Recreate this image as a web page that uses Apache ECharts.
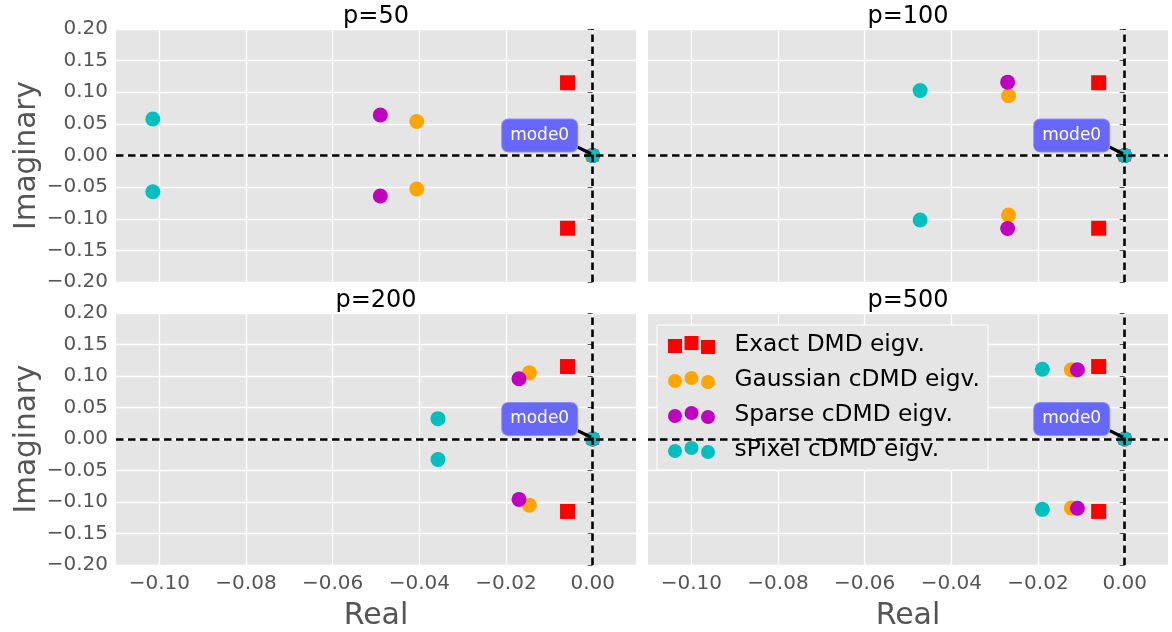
<!DOCTYPE html>
<html>
<head>
<meta charset="utf-8">
<script src="https://cdn.jsdelivr.net/npm/echarts@6/dist/echarts.min.js"></script>
<style>
html, body { margin: 0; padding: 0; background: #fff; }
#chart { width: 1172px; height: 632px; }
</style>
</head>
<body>
<div id="chart"></div>
<script>
const panelTitles = ['p=50', 'p=100', 'p=200', 'p=500'];
const seriesNames = ['Exact DMD eigv.', 'Gaussian cDMD eigv.', 'Sparse cDMD eigv.', 'sPixel cDMD eigv.'];
const seriesColors = ['#ff0000', '#ffa500', '#bf00bf', '#00bfbf'];
const xTicks = [-0.10, -0.08, -0.06, -0.04, -0.02, 0.00];

// eigenvalues as [real, imag], one list per panel
const exactEig = [
    [[0, 0], [-0.0058, 0.115], [-0.0058, -0.115]],
    [[0, 0], [-0.0060, 0.115], [-0.0060, -0.115]],
    [[0, 0], [-0.0058, 0.115], [-0.0058, -0.115]],
    [[0, 0], [-0.0060, 0.115], [-0.0060, -0.115]]
];
const gaussianEig = [
    [[0, 0], [-0.0406, 0.0538], [-0.0406, -0.0530]],
    [[0, 0], [-0.0268, 0.0945], [-0.0268, -0.0940]],
    [[0, 0], [-0.0146, 0.1050], [-0.0146, -0.1050]],
    [[0, 0], [-0.0123, 0.1100], [-0.0123, -0.1097]]
];
const sparseEig = [
    [[0, 0], [-0.0490, 0.0640], [-0.0490, -0.0640]],
    [[0, 0], [-0.0270, 0.1160], [-0.0270, -0.1155]],
    [[0, 0], [-0.0170, 0.0956], [-0.0170, -0.0959]],
    [[0, 0], [-0.0109, 0.1100], [-0.0109, -0.1100]]
];
const spixelEig = [
    [[0, 0], [-0.1015, 0.0576], [-0.1015, -0.0574]],
    [[0, 0], [-0.0472, 0.1028], [-0.0472, -0.1020]],
    [[0, 0], [-0.0357, 0.0323], [-0.0357, -0.0326]],
    [[0, 0], [-0.0190, 0.1108], [-0.0190, -0.1117]]
];

// annotation "mode0" on the origin
const modeLabel = 'mode0';
const arrowFrom = [-0.00345, 0.0133];
const arrowTo = [-0.0004, 0.0027];

const eigSets = [exactEig, gaussianEig, sparseEig, spixelEig];
const gridPos = [
    { left: 116, top: 29 },
    { left: 648, top: 29 },
    { left: 116, top: 313 },
    { left: 648, top: 313 }
];
const FONT = 'DejaVu Sans';

const fmt = v => v.toFixed(2).replace('-', '\u2212');
const squareIcon = 'path://M0,3h14v14h-14z M16.5,0h14v14h-14z M33,4h14v14h-14z';
const circleIcon = 'path://M0,10a7,7 0 1,0 14,0a7,7 0 1,0 -14,0z M16.5,7a7,7 0 1,0 14,0a7,7 0 1,0 -14,0z M33,11a7,7 0 1,0 14,0a7,7 0 1,0 -14,0z';

const grids = gridPos.map(g => ({
    left: g.left, top: g.top, width: 520, height: 253,
    show: true, backgroundColor: '#e5e5e5', borderWidth: 0
}));

const xAxes = gridPos.map((g, i) => ({
    type: 'value', gridIndex: i, min: -0.11, max: 0.01,
    name: i >= 2 ? 'Real' : '', nameLocation: 'middle', nameGap: 36,
    nameTextStyle: { fontSize: 30, color: '#555555', fontFamily: FONT },
    axisLine: { show: false },
    axisTick: { show: false, customValues: xTicks },
    axisLabel: { show: i >= 2, customValues: xTicks, formatter: fmt, fontSize: 20, color: '#555555', margin: 9, fontFamily: FONT },
    splitLine: { show: true, lineStyle: { color: '#ffffff', width: 1.3 } }
}));

const yAxes = gridPos.map((g, i) => ({
    type: 'value', gridIndex: i, min: -0.2, max: 0.2, interval: 0.05,
    name: i % 2 === 0 ? 'Imaginary' : '', nameLocation: 'middle', nameGap: 72,
    nameTextStyle: { fontSize: 29.5, color: '#555555', fontFamily: FONT },
    axisLine: { show: false },
    axisTick: { show: true, length: 5, lineStyle: { color: '#555555', width: 1 } },
    axisLabel: { show: i % 2 === 0, formatter: fmt, fontSize: 20, color: '#555555', margin: 8, fontFamily: FONT },
    splitLine: { show: true, lineStyle: { color: '#ffffff', width: 1.3 } }
}));

const titles = gridPos.map((g, i) => ({
    text: panelTitles[i], left: g.left + 260, top: g.top - 24, textAlign: 'center',
    padding: 0,
    textStyle: { fontSize: 24, fontWeight: 'normal', color: '#000000', fontFamily: FONT }
}));

const series = [];
panelTitles.forEach((t, p) => {
    eigSets.forEach((set, k) => {
        const s = {
            name: seriesNames[k], type: 'scatter', xAxisIndex: p, yAxisIndex: p,
            symbol: k === 0 ? 'rect' : 'circle',
            // the exact eigenvalue at the origin sits mostly under the sPixel marker
            symbolSize: k === 0 ? (v => (v[0] === 0 && v[1] === 0 ? 12 : 15)) : 15,
            itemStyle: { color: seriesColors[k], opacity: 1 },
            silent: true,
            data: set[p]
        };
        if (k === 3) {
            s.markLine = {
                silent: true, symbol: 'none', label: { show: false },
                data: [
                    { xAxis: 0, lineStyle: { color: '#000', width: 2.6, type: [7.5, 4.5] } },
                    { yAxis: 0, lineStyle: { color: '#000', width: 2.6, type: [7.5, 4.5] } },
                    [
                        { coord: arrowFrom, lineStyle: { color: '#000', width: 3.2, type: 'solid' } },
                        { coord: arrowTo }
                    ]
                ]
            };
            s.markPoint = {
                silent: true, symbol: 'circle', symbolSize: 1,
                itemStyle: { color: 'rgba(0,0,0,0)' },
                data: [{ coord: [0, 0] }],
                label: {
                    show: true, formatter: modeLabel, position: 'inside', offset: [-53, -20],
                    color: '#ffffff', fontSize: 17, lineHeight: 20, fontFamily: FONT,
                    backgroundColor: '#6767fb', borderColor: '#8f8ffb', borderWidth: 1,
                    borderRadius: 6, padding: [6, 8]
                }
            };
        }
        series.push(s);
    });
});

const chart = echarts.init(document.getElementById('chart'));
chart.setOption({
    animation: false,
    textStyle: { fontFamily: FONT },
    title: titles,
    legend: {
        left: 657, top: 325, orient: 'vertical', selectedMode: false,
        backgroundColor: '#e5e5e5', borderColor: '#ffffff', borderWidth: 1,
        padding: [7, 8, 7, 11], itemGap: 9, itemWidth: 48, itemHeight: 18,
        textStyle: { fontSize: 23.3, color: '#000000', lineHeight: 26, padding: [0, 0, 0, 14], fontFamily: FONT },
        data: seriesNames.map((n, k) => ({ name: n, icon: k === 0 ? squareIcon : circleIcon }))
    },
    grid: grids,
    xAxis: xAxes,
    yAxis: yAxes,
    series: series
});
</script>
</body>
</html>
